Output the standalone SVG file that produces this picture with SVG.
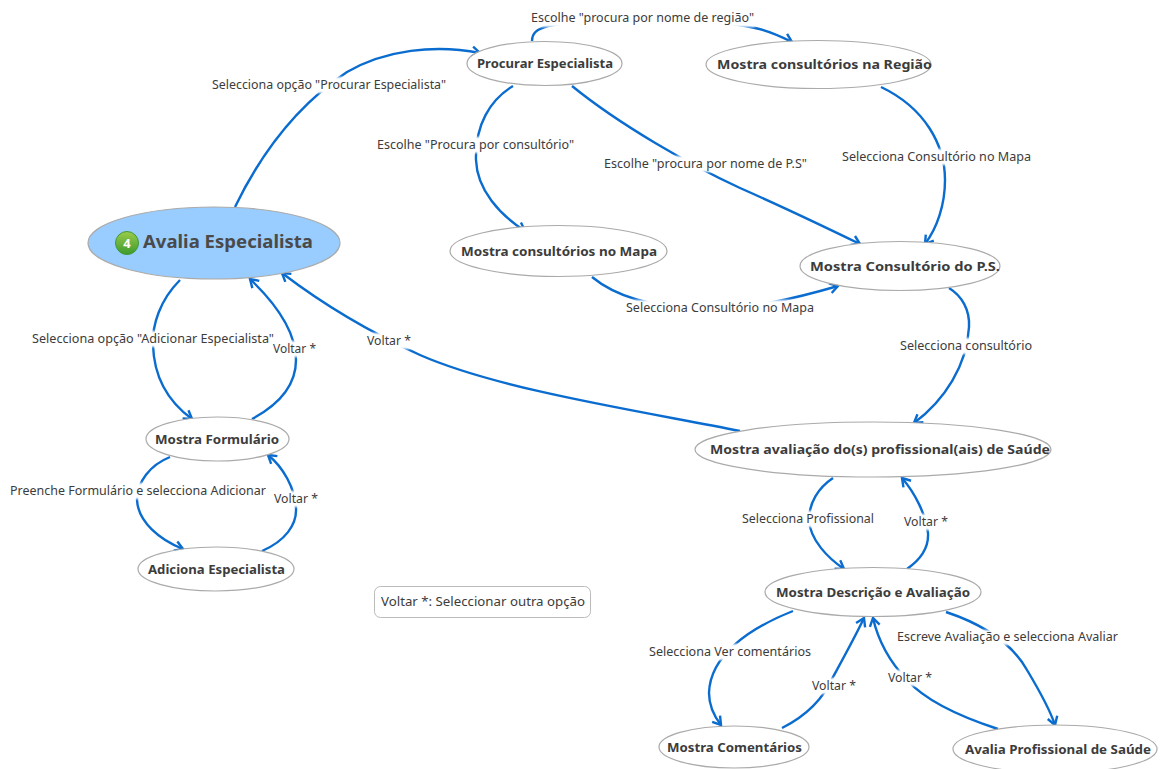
<svg xmlns="http://www.w3.org/2000/svg" width="1169" height="769" viewBox="0 0 1169 769">
<style>
.n{fill:#fff;stroke:#aaa;stroke-width:1.2}
.t{font-family:"Noto Sans","Open Sans",sans-serif;font-weight:700;font-size:13px;fill:#3c3c3c}
.l{font-family:"Noto Sans","Open Sans",sans-serif;font-size:12px;fill:#3c3c3c}
.c{fill:none;stroke:#0a6ccf;stroke-width:2.4;marker-end:url(#a)}
</style>
<defs>
<marker id="a" markerUnits="userSpaceOnUse" markerWidth="14" markerHeight="14" refX="11" refY="7" orient="auto"><path d="M3 2L11 7L3 12" fill="none" stroke="#0a6ccf" stroke-width="2.4"/></marker>
<linearGradient id="g" x1="0" y1="0" x2="0" y2="1"><stop offset="0" stop-color="#9ccc4a"/><stop offset="1" stop-color="#3c9a2e"/></linearGradient>
<filter id="s" x="-5%" y="-30%" width="110%" height="160%"><feGaussianBlur stdDeviation="1.2"/></filter>
</defs>
<rect width="1169" height="769" fill="#fff"/>
<g id="connectors">
<path class="c" d="M235 207C265 145 305 100 347 72C385 50 435 44 480 53"/>
<path class="c" d="M532 41C532 33 537 29 548 26C610 14 700 17 755 28C770 31 782 37 792 42"/>
<path class="c" d="M513 86C490 100 475 125 476 160C477 190 500 215 525 231"/>
<path class="c" d="M572 86C620 125 690 165 740 188C790 210 825 227 860 244"/>
<path class="c" d="M881 87C925 108 945 145 945 180C945 205 937 228 925 244"/>
<path class="c" d="M592 277C615 296 650 307 700 309C750 310 800 297 838 286"/>
<path class="c" d="M949 288C962 296 970 310 969 327C967 365 945 400 914 423"/>
<path class="c" d="M740 431C640 411 500 390 420 355C365 330 320 302 282 273"/>
<path class="c" d="M180 280C160 300 152 325 153 345C154 380 170 403 192 419"/>
<path class="c" d="M252 419C280 404 296 385 296 360C296 330 272 300 250 279"/>
<path class="c" d="M170 457C150 465 137 482 137 500C138 522 160 540 183 549"/>
<path class="c" d="M262 551C285 541 297 525 296 508C295 488 283 467 268 455"/>
<path class="c" d="M833 478C818 488 809 503 809 520C810 540 828 558 844 569"/>
<path class="c" d="M907 569C920 560 929 548 928 533C926 515 915 493 902 478"/>
<path class="c" d="M793 611C750 628 710 655 709 693C709 705 714 716 721 725"/>
<path class="c" d="M782 728C810 714 825 695 833 677C845 655 855 637 864 618"/>
<path class="c" d="M998 729C955 715 925 700 907 680C888 660 878 640 873 618"/>
<path class="c" d="M946 612C985 625 1013 645 1027 670C1042 695 1050 710 1055 725"/>
</g>
<g id="n1"><ellipse cx="214" cy="243" rx="126" ry="36" fill="#99ccff" stroke="#aaa" stroke-width="1.2"/><circle cx="127" cy="243" r="11.500" fill="url(#g)" stroke="#3f9a3a"/><text x="127" y="248" font-family="Noto Sans,sans-serif" font-size="13" font-weight="700" fill="#fff" text-anchor="middle">4</text><text x="143" y="248" font-family="Noto Sans,sans-serif" font-weight="700" font-size="18" fill="#4a4a4a" textLength="170" lengthAdjust="spacingAndGlyphs">Avalia Especialista</text></g>
<g id="n2"><ellipse class="n" cx="544.500" cy="63.500" rx="77.500" ry="22"/><text class="t" x="477" y="68" textLength="136" lengthAdjust="spacingAndGlyphs">Procurar Especialista</text></g>
<g id="n3"><ellipse class="n" cx="818.500" cy="64.500" rx="112.500" ry="24"/><text class="t" x="717" y="69" textLength="215" lengthAdjust="spacingAndGlyphs">Mostra consultórios na Região</text></g>
<g id="n4"><ellipse class="n" cx="558.500" cy="251" rx="108.500" ry="25.500"/><text class="t" x="461" y="256" textLength="196" lengthAdjust="spacingAndGlyphs">Mostra consultórios no Mapa</text></g>
<g id="n5"><ellipse class="n" cx="900" cy="266" rx="100" ry="24.500"/><text class="t" x="810" y="271" textLength="190" lengthAdjust="spacingAndGlyphs">Mostra Consultório do P.S.</text></g>
<g id="n6"><ellipse class="n" cx="873" cy="449.500" rx="178" ry="27.500"/><text class="t" x="710" y="454" textLength="340" lengthAdjust="spacingAndGlyphs">Mostra avaliação do(s) profissional(ais) de Saúde</text></g>
<g id="n7"><ellipse class="n" cx="217.500" cy="439" rx="71.500" ry="22"/><text class="t" x="155" y="444" textLength="124" lengthAdjust="spacingAndGlyphs">Mostra Formulário</text></g>
<g id="n8"><ellipse class="n" cx="216" cy="569" rx="78" ry="22"/><text class="t" x="148" y="574" textLength="137" lengthAdjust="spacingAndGlyphs">Adiciona Especialista</text></g>
<g id="n9"><ellipse class="n" cx="873" cy="592" rx="108" ry="24.500"/><text class="t" x="776" y="597" textLength="194" lengthAdjust="spacingAndGlyphs">Mostra Descrição e Avaliação</text></g>
<g id="n10"><ellipse class="n" cx="734" cy="747" rx="75" ry="21"/><text class="t" x="667" y="752" textLength="135" lengthAdjust="spacingAndGlyphs">Mostra Comentários</text></g>
<g id="n11"><ellipse class="n" cx="1055" cy="749" rx="102" ry="24"/><text class="t" x="965" y="754" textLength="186" lengthAdjust="spacingAndGlyphs">Avalia Profissional de Saúde</text></g>
<g id="n12"><rect x="374.500" y="586.500" width="216" height="31" rx="6" fill="#fff" stroke="#bbb"/><text class="l" x="381" y="606" textLength="204" lengthAdjust="spacingAndGlyphs">Voltar *: Seleccionar outra opção</text></g>
<g id="label-backs" fill="#fff" filter="url(#s)">
<rect x="212" y="77" width="234" height="16"/>
<rect x="531" y="10" width="224" height="17"/>
<rect x="377" y="137" width="197" height="16"/>
<rect x="604" y="156" width="203" height="16"/>
<rect x="842" y="149" width="189" height="16"/>
<rect x="626" y="300" width="188" height="16"/>
<rect x="900" y="338" width="132" height="16"/>
<rect x="367" y="333" width="44" height="16"/>
<rect x="32" y="331" width="242" height="16"/>
<rect x="273" y="341" width="43" height="16"/>
<rect x="10" y="483" width="256" height="16"/>
<rect x="274" y="491" width="44" height="16"/>
<rect x="742" y="511" width="132" height="16"/>
<rect x="904" y="514" width="44" height="16"/>
<rect x="649" y="644" width="162" height="16"/>
<rect x="812" y="678" width="44" height="16"/>
<rect x="888" y="670" width="44" height="16"/>
<rect x="897" y="630" width="221" height="15"/>
</g>
<g id="labels">
<text class="l" x="212" y="89" textLength="234" lengthAdjust="spacingAndGlyphs">Selecciona opção "Procurar Especialista"</text>
<text class="l" x="531" y="22" textLength="223" lengthAdjust="spacingAndGlyphs">Escolhe "procura por nome de região"</text>
<text class="l" x="377" y="149" textLength="197" lengthAdjust="spacingAndGlyphs">Escolhe "Procura por consultório"</text>
<text class="l" x="604" y="168" textLength="203" lengthAdjust="spacingAndGlyphs">Escolhe "procura por nome de P.S"</text>
<text class="l" x="842" y="161" textLength="189" lengthAdjust="spacingAndGlyphs">Selecciona Consultório no Mapa</text>
<text class="l" x="626" y="312" textLength="188" lengthAdjust="spacingAndGlyphs">Selecciona Consultório no Mapa</text>
<text class="l" x="900" y="350" textLength="132" lengthAdjust="spacingAndGlyphs">Selecciona consultório</text>
<text class="l" x="367" y="345" textLength="44" lengthAdjust="spacingAndGlyphs">Voltar *</text>
<text class="l" x="32" y="343" textLength="242" lengthAdjust="spacingAndGlyphs">Selecciona opção "Adicionar Especialista"</text>
<text class="l" x="273" y="353" textLength="43" lengthAdjust="spacingAndGlyphs">Voltar *</text>
<text class="l" x="10" y="495" textLength="256" lengthAdjust="spacingAndGlyphs">Preenche Formulário e selecciona Adicionar</text>
<text class="l" x="274" y="503" textLength="44" lengthAdjust="spacingAndGlyphs">Voltar *</text>
<text class="l" x="742" y="523" textLength="132" lengthAdjust="spacingAndGlyphs">Selecciona Profissional</text>
<text class="l" x="904" y="526" textLength="44" lengthAdjust="spacingAndGlyphs">Voltar *</text>
<text class="l" x="649" y="656" textLength="162" lengthAdjust="spacingAndGlyphs">Selecciona Ver comentários</text>
<text class="l" x="812" y="690" textLength="44" lengthAdjust="spacingAndGlyphs">Voltar *</text>
<text class="l" x="888" y="682" textLength="44" lengthAdjust="spacingAndGlyphs">Voltar *</text>
<text class="l" x="897" y="641" textLength="221" lengthAdjust="spacingAndGlyphs">Escreve Avaliação e selecciona Avaliar</text>
</g>
</svg>
